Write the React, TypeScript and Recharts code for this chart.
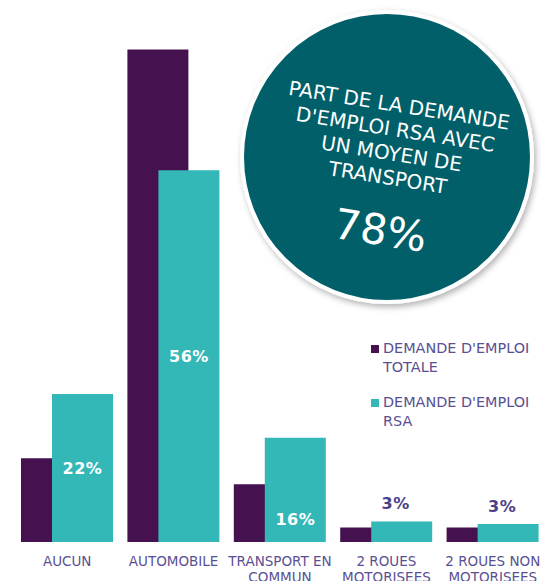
import { BarChart, Bar, XAxis, YAxis, Legend, LabelList } from "recharts"

const categories = ["AUCUN", "AUTOMOBILE", "TRANSPORT EN\nCOMMUN", "2 ROUES\nMOTORISEES", "2 ROUES NON\nMOTORISEES"]
const totalShare = [12.6, 74.2, 8.7, 2.2, 2.2]
const rsaShare = [22.3, 56, 15.7, 3.1, 2.7]
const rsaLabelSpot = ["middle", "middle", "bottom", "above", "above"]
const seriesNames = ["DEMANDE D'EMPLOI\nTOTALE", "DEMANDE D'EMPLOI\nRSA"]
const highlightTitle = ["PART DE LA DEMANDE", "D'EMPLOI RSA AVEC", "UN MOYEN DE", "TRANSPORT"]
const highlightValue = "78%"

const FONT = "'DejaVu Sans', Verdana, sans-serif"
const PURPLE = "#46114f"
const TEAL = "#33b7b7"
const TEXT = "#5a4f93"

const chartData = categories.map((category, i) => ({
  category,
  total: totalShare[i],
  rsa: rsaShare[i],
}))

const CategoryTick = (props: any) => {
  const { x, y, payload } = props
  const lines = String(payload.value).split("\n")
  return (
    <text x={x} y={y} textAnchor="middle" fill={TEXT} fontSize={13.5} fontFamily={FONT}>
      {lines.map((line, i) => (
        <tspan key={line} x={x} dy={i === 0 ? 23.5 : 16.5}>
          {line}
        </tspan>
      ))}
    </text>
  )
}

const RsaLabel = (props: any) => {
  const { x, y, width, height, value, index } = props
  const spot = rsaLabelSpot[index]
  const cx = x + width / 2
  let cy = y + height / 2
  let fill = "#ffffff"
  if (spot === "bottom") cy = y + height - 23.5
  if (spot === "above") {
    cy = y - 18
    fill = "#4b3f88"
  }
  return (
    <text
      x={spot === "above" ? cx - 6 : cx}
      y={cy}
      dy={6}
      textAnchor="middle"
      fill={fill}
      fontSize={16}
      fontWeight="bold"
      fontFamily={FONT}
      letterSpacing={0.5}
    >
      {`${Math.round(value)}%`}
    </text>
  )
}

const renderLegend = (props: any) => {
  // keep the series order (TOTALE first), not the alphabetical one
  const items = [...props.payload].sort(
    (a: any, b: any) => seriesNames.indexOf(a.value) - seriesNames.indexOf(b.value),
  )
  return (
    <div style={{ fontFamily: FONT, fontSize: 14.4, color: TEXT, textAlign: "left" }}>
      {items.map((entry: any) => (
        <div key={entry.value} style={{ display: "flex", marginBottom: 17 }}>
          <span style={{ width: 8, height: 8, background: entry.color, marginTop: 6, marginRight: 4, flexShrink: 0 }} />
          <div style={{ lineHeight: "18.5px" }}>
            {String(entry.value)
              .split("\n")
              .map((line) => (
                <div key={line}>{line}</div>
              ))}
          </div>
        </div>
      ))}
    </div>
  )
}

const HighlightBubble = () => {
  const cx = 387
  const cy = 157
  return (
    <svg width={541} height={320} style={{ position: "absolute", left: 0, top: 0, pointerEvents: "none" }}>
      <defs>
        <filter id="bubbleShadow" x="-20%" y="-20%" width="140%" height="140%">
          <feDropShadow dx={2} dy={3} stdDeviation={3} floodColor="#000" floodOpacity={0.3} />
        </filter>
      </defs>
      <circle cx={cx} cy={cy} r={145} fill="#035f69" stroke="#ffffff" strokeWidth={4} filter="url(#bubbleShadow)" />
      <g transform={`rotate(9 ${cx} ${cy})`} fontFamily={FONT} fill="#ffffff" textAnchor="middle">
        {highlightTitle.map((line, i) => (
          <text key={line} x={cx + 4} y={cy - 53 + i * 24.4 + 7} fontSize={20}>
            {line}
          </text>
        ))}
        <text x={cx + 5} y={cy + 73 + 15} fontSize={42}>
          {highlightValue}
        </text>
      </g>
    </svg>
  )
}

export default function App() {
  return (
    <div style={{ position: "absolute", left: 0, top: 0, width: 541, height: 581, background: "#fff", overflow: "hidden" }}>
      <BarChart
        width={541}
        height={581}
        data={chartData}
        margin={{ top: 11, right: -5, left: 14, bottom: 0 }}
        barSize={61}
        barGap={-30}
      >
        <XAxis
          dataKey="category"
          axisLine={false}
          tickLine={false}
          tickSize={0}
          tickMargin={0}
          height={39}
          interval={0}
          tick={CategoryTick}
        />
        <YAxis hide domain={[0, 80]} />
        <Legend
          layout="horizontal"
          verticalAlign="middle"
          align="center"
          content={renderLegend}
          wrapperStyle={{ left: 371, top: 339, width: 170 }}
        />
        <Bar dataKey="total" name={seriesNames[0]} fill={PURPLE} isAnimationActive={false} />
        <Bar dataKey="rsa" name={seriesNames[1]} fill={TEAL} isAnimationActive={false}>
          <LabelList dataKey="rsa" content={RsaLabel} />
        </Bar>
      </BarChart>
      <HighlightBubble />
    </div>
  )
}
